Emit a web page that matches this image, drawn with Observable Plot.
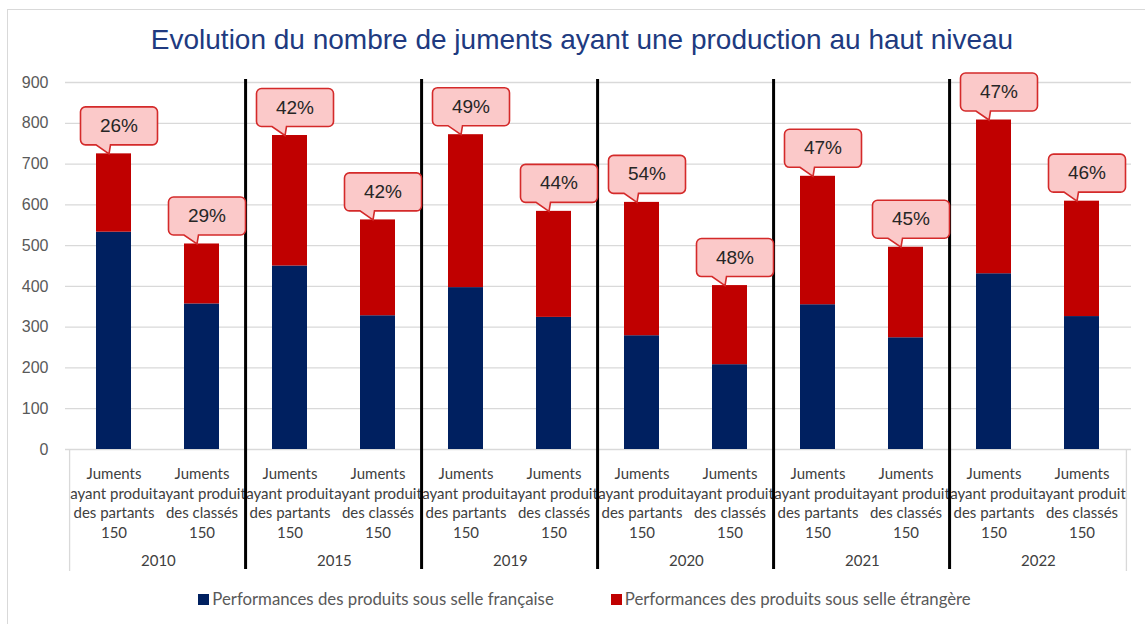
<!DOCTYPE html>
<html>
<head>
<meta charset="utf-8">
<script src="https://cdn.jsdelivr.net/npm/d3@7"></script>
<script src="https://cdn.jsdelivr.net/npm/@observablehq/plot@0.6"></script>
<style>
  body { margin:0; width:1145px; height:624px; overflow:hidden; position:relative; background:#fff; }
  #border { position:absolute; left:7px; top:9px; width:1300px; height:800px; border-left:1px solid #d9d9d9; border-top:1px solid #d9d9d9; }
  #title { position:relative; height:64px; box-sizing:border-box; padding-top:26px; padding-left:19px; text-align:center;
           font-family:"Liberation Sans", Arial, sans-serif; font-size:28px; line-height:28px; color:#203a80; white-space:nowrap; }
  #chart { position:relative; height:520px; }
  #chart svg { display:block; }
  #legend { position:absolute; left:0; top:589px; width:1145px; height:20px; display:flex; justify-content:center; gap:57px;
            font-family:Lato, sans-serif; font-size:16.8px; line-height:20px; color:#595959; box-sizing:border-box; padding-left:24px; }
  .item { display:flex; align-items:center; gap:3px; }
  .sw { width:11px; height:11px; display:inline-block; }
</style>
</head>
<body>
<div id="border"></div>
<div id="title">Evolution du nombre de juments ayant une production au haut niveau</div>
<div id="chart"></div>
<div id="legend"></div>
<script>
// ---- data ----
const years = ["2010", "2015", "2019", "2020", "2021", "2022"];
const categories = ["partants", "classés"];
const categoryLabels = ["Juments\nayant produit\ndes partants\n150", "Juments\nayant produit\ndes classés\n150"];
const seriesNames = ["Performances des produits sous selle française", "Performances des produits sous selle étrangère"];
const seriesColors = ["#002060", "#c00000"];
// values in bar order: 2010 partants, 2010 classés, 2015 partants, ...
const french  = [533, 357, 450, 328, 397, 324, 279, 208, 355, 274, 431, 326];
const foreign = [192, 147, 320, 235, 375, 260, 327, 194, 315, 222, 377, 283];
const pctLabels = [26, 29, 42, 42, 49, 44, 54, 48, 47, 45, 47, 46];
const yTicks = [0, 100, 200, 300, 400, 500, 600, 700, 800, 900];

// ---- derived tables ----
const keys = [];
const labelOf = new Map();
years.forEach(y => categories.forEach((c, j) => { const k = y + " " + c; keys.push(k); labelOf.set(k, categoryLabels[j]); }));
const bars = [];
keys.forEach((k, i) => {
  bars.push({key: k, series: seriesNames[0], value: french[i]});
  bars.push({key: k, series: seriesNames[1], value: foreign[i]});
});
const totals = keys.map((k, i) => ({key: k, total: french[i] + foreign[i], pct: pctLabels[i] + "%"}));
const groups = years.map((y, i) => ({year: y, first: keys[2 * i], last: keys[2 * i + 1]}));

const W = 1145, H = 520, ML = 65, MR = 14, MT = 18, MB = 135;
const step = (W - ML - MR) / keys.length;

// callout shape: tip at (0,0), box above
const callout = {
  draw(ctx) {
    const w = 77, h = 38, r = 5, cx = 10, b = -9;
    const x0 = cx - w / 2, x1 = cx + w / 2, y0 = b - h, y1 = b;
    ctx.moveTo(x0 + r, y0);
    ctx.lineTo(x1 - r, y0);
    ctx.arcTo(x1, y0, x1, y0 + r, r);
    ctx.lineTo(x1, y1 - r);
    ctx.arcTo(x1, y1, x1 - r, y1, r);
    ctx.lineTo(1.5, y1);
    ctx.lineTo(0, 0);
    ctx.lineTo(-13, y1);
    ctx.lineTo(x0 + r, y1);
    ctx.arcTo(x0, y1, x0, y1 - r, r);
    ctx.lineTo(x0, y0 + r);
    ctx.arcTo(x0, y0, x0 + r, y0, r);
    ctx.closePath();
  }
};

const chart = Plot.plot({
  width: W, height: H,
  marginLeft: ML, marginRight: MR, marginTop: MT, marginBottom: MB,
  style: {fontFamily: "Lato, sans-serif", background: "transparent", overflow: "visible"},
  x: {type: "band", domain: keys, paddingInner: 0.6, paddingOuter: 0.3, axis: null},
  y: {domain: [0, 900], axis: null},
  color: {domain: seriesNames, range: seriesColors},
  marks: [
    Plot.gridY(yTicks, {stroke: "#d9d9d9", strokeOpacity: 1, strokeWidth: 1.3}),
    Plot.axisY(yTicks, {tickSize: 0, tickPadding: 17, fontSize: 16, fontFamily: "Liberation Sans, Arial, sans-serif", color: "#595959", label: null}),
    Plot.axisX({tickSize: 0, tickPadding: 16, tickFormat: k => labelOf.get(k), fontSize: 15, lineHeight: 1.3, color: "#404040", label: null}),
    Plot.text(groups, {x: "first", dx: step / 2, text: "year", frameAnchor: "bottom", dy: 112, lineAnchor: "middle", fontSize: 15, fill: "#404040"}),
    // axis box edges
    Plot.ruleX([keys[0]], {dx: -step / 2, stroke: "#d9d9d9", strokeWidth: 1.3, insetTop: 367, insetBottom: -122}),
    Plot.ruleX([keys[keys.length - 1]], {dx: step / 2, stroke: "#d9d9d9", strokeWidth: 1.3, insetTop: 367, insetBottom: -122}),
    // year separators
    Plot.ruleX(groups.slice(1), {x: "first", dx: -step / 2, stroke: "#000", strokeWidth: 3, insetTop: -3, insetBottom: -120}),
    Plot.barY(bars, {x: "key", y: "value", fill: "series", order: seriesNames}),
    Plot.dot(totals, {x: "key", y: "total", symbol: callout, r: 5, fill: "#fbc9c9", stroke: "#d42a2a", strokeWidth: 1.6, dx: -5}),
    Plot.text(totals, {x: "key", y: "total", text: "pct", dx: 5, dy: -28, fontSize: 19, fontFamily: "Liberation Sans, Arial, sans-serif", fill: "#262626"})
  ]
});
document.getElementById("chart").appendChild(chart);

const legend = document.getElementById("legend");
seriesNames.forEach((s, i) => {
  const it = document.createElement("div");
  it.className = "item";
  const sw = document.createElement("span");
  sw.className = "sw";
  sw.style.background = seriesColors[i];
  const t = document.createElement("span");
  t.textContent = s;
  it.appendChild(sw); it.appendChild(t);
  legend.appendChild(it);
});
</script>
</body>
</html>
